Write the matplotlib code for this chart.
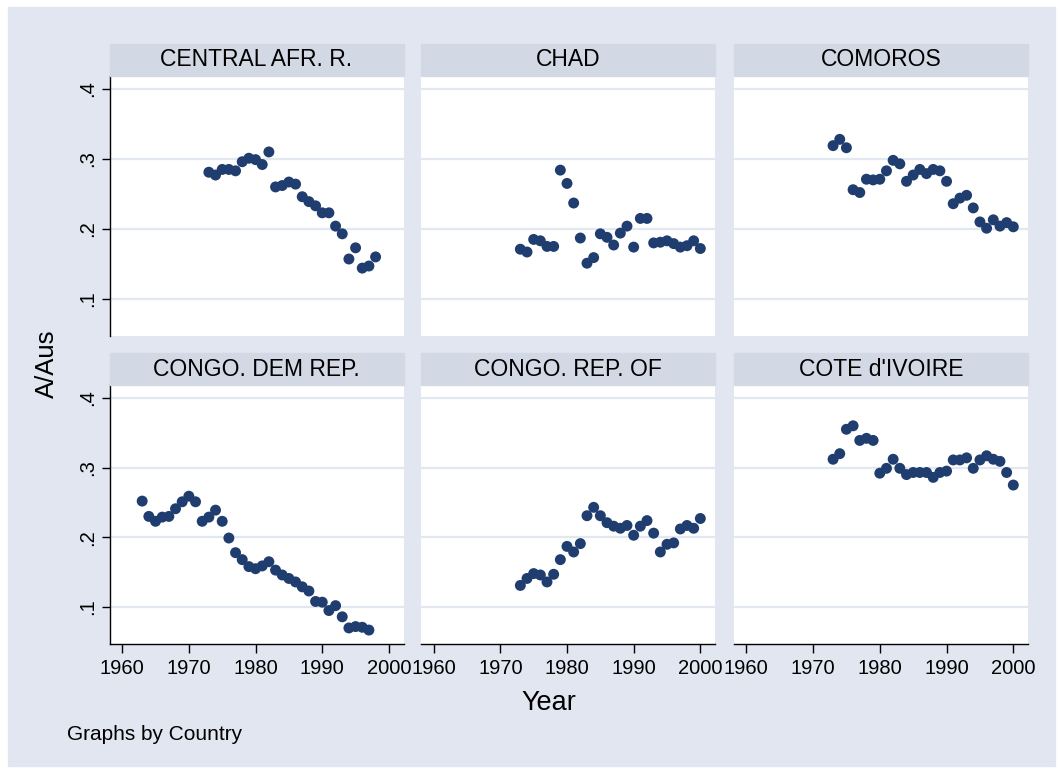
import matplotlib
import numpy as np

matplotlib.use('Agg')

import matplotlib.pyplot as plt
from matplotlib.patches import Rectangle

plt.rcParams['font.family'] = ['Liberation Sans', 'DejaVu Sans']

# data
countries = ['CENTRAL AFR. R.', 'CHAD', 'COMOROS',
             'CONGO. DEM REP.', 'CONGO. REP. OF', "COTE d'IVOIRE"]

car_years = list(range(1973, 1999))
car_vals = [0.281, 0.277, 0.285, 0.285, 0.283, 0.296, 0.301, 0.299, 0.292, 0.310,
            0.260, 0.262, 0.267, 0.264, 0.246, 0.239, 0.233, 0.223, 0.223, 0.204,
            0.193, 0.157, 0.173, 0.144, 0.147, 0.160]

chad_years = list(range(1973, 2001))
chad_vals = [0.171, 0.167, 0.185, 0.183, 0.175, 0.175, 0.284, 0.265, 0.237, 0.187,
             0.151, 0.159, 0.193, 0.188, 0.177, 0.194, 0.204, 0.174, 0.215, 0.215,
             0.180, 0.181, 0.183, 0.179, 0.174, 0.176, 0.183, 0.172]

com_years = list(range(1973, 2001))
com_vals = [0.319, 0.328, 0.316, 0.256, 0.252, 0.271, 0.270, 0.271, 0.283, 0.298,
            0.293, 0.268, 0.277, 0.285, 0.279, 0.285, 0.283, 0.268, 0.236, 0.244,
            0.248, 0.230, 0.210, 0.201, 0.213, 0.204, 0.209, 0.203]

cdr_years = list(range(1963, 1998))
cdr_vals = [0.252, 0.230, 0.223, 0.229, 0.230, 0.241, 0.251, 0.259, 0.251, 0.223,
            0.229, 0.239, 0.223, 0.199, 0.178, 0.168, 0.158, 0.155, 0.159, 0.165,
            0.153, 0.146, 0.141, 0.136, 0.129, 0.123, 0.108, 0.107, 0.095, 0.102,
            0.086, 0.070, 0.072, 0.071, 0.067]

cro_years = list(range(1973, 2001))
cro_vals = [0.131, 0.141, 0.148, 0.146, 0.136, 0.147, 0.168, 0.187, 0.179, 0.191,
            0.231, 0.243, 0.231, 0.221, 0.216, 0.213, 0.217, 0.203, 0.216, 0.224,
            0.206, 0.179, 0.190, 0.192, 0.212, 0.217, 0.213, 0.227]

civ_years = list(range(1973, 2001))
civ_vals = [0.312, 0.320, 0.355, 0.360, 0.339, 0.342, 0.339, 0.292, 0.299, 0.312,
            0.299, 0.290, 0.293, 0.293, 0.293, 0.286, 0.293, 0.295, 0.311, 0.311,
            0.314, 0.299, 0.311, 0.317, 0.312, 0.309, 0.293, 0.275]

series = [(car_years, car_vals), (chad_years, chad_vals), (com_years, com_vals),
          (cdr_years, cdr_vals), (cro_years, cro_vals), (civ_years, civ_vals)]

x_ticks = [1960, 1970, 1980, 1990, 2000]
y_ticks = [0.1, 0.2, 0.3, 0.4]
y_labels = ['.1', '.2', '.3', '.4']

W, H = 1060, 771
BG = '#e1e6f0'
STRIP = '#d2d9e4'
GRID = '#e2e7f0'
DOT = '#1f3d6e'


def px_axes(fig, x0, y0, x1, y1):
    # pixel box (top-left origin) -> figure axes
    return fig.add_axes([x0 / W, 1 - y1 / H, (x1 - x0) / W, (y1 - y0) / H])


def plot_panels():
    fig = plt.figure(figsize=(W / 100, H / 100), dpi=100, facecolor='white')
    fig.patches.append(Rectangle((8 / W, 1 - 766 / H), 1047 / W, 759 / H,
                                 transform=fig.transFigure, color=BG, zorder=-10))

    cols = [(109.5, 403.6), (421, 715), (733.6, 1028)]
    rows = [(76, 336), (385, 644)]
    strip_h = 32

    for i, (name, (yrs, vals)) in enumerate(zip(countries, series)):
        r, c = divmod(i, 3)
        x0, x1 = cols[c]
        y0, y1 = rows[r]
        ax = px_axes(fig, x0, y0, x1, y1)
        ax.set_facecolor('white')
        ax.scatter(yrs, vals, s=62, color=DOT, edgecolors='none', zorder=3)
        ax.set_xlim(1958.1, 2002.2)
        ax.set_ylim(0.047, 0.4185)
        ax.set_yticks(y_ticks)
        ax.set_xticks(x_ticks)
        ax.grid(axis='y', color=GRID, linewidth=1.6)
        ax.set_axisbelow(True)
        for s in ['top', 'right']:
            ax.spines[s].set_visible(False)

        if c == 0:
            ax.spines['left'].set_color('black')
            ax.spines['left'].set_linewidth(1.0)
            ax.set_yticklabels(y_labels, rotation=90, va='center', fontsize=14.5)
            ax.tick_params(axis='y', length=6, width=1, pad=3)
        else:
            ax.spines['left'].set_visible(False)
            ax.tick_params(axis='y', length=0, labelleft=False)

        if r == 1:
            ax.spines['bottom'].set_color('black')
            ax.spines['bottom'].set_linewidth(1.0)
            ax.tick_params(axis='x', length=6.5, width=1, labelsize=14.5, pad=4)
        else:
            ax.spines['bottom'].set_visible(False)
            ax.tick_params(axis='x', length=0, labelbottom=False)

        # header strip
        sh = strip_h / (y1 - y0)
        ax.add_patch(Rectangle((0, 1), 1, sh, transform=ax.transAxes,
                               color=STRIP, clip_on=False, zorder=5))
        ax.text(0.5, 1 + sh / 2, name, transform=ax.transAxes, ha='center',
                va='center', fontsize=16.5, zorder=6)

    fig.text(47 / W, 1 - 364 / H, 'A/Aus', rotation=90, ha='center', va='center',
             fontsize=18.5)
    fig.text(549 / W, 1 - 703 / H, 'Year', ha='center', va='center', fontsize=19.5)
    fig.text(67 / W, 1 - 734 / H, 'Graphs by Country', ha='left', va='center',
             fontsize=15)

    plt.savefig('out.png', dpi=100, facecolor='white')


if __name__ == '__main__':
    plot_panels()
